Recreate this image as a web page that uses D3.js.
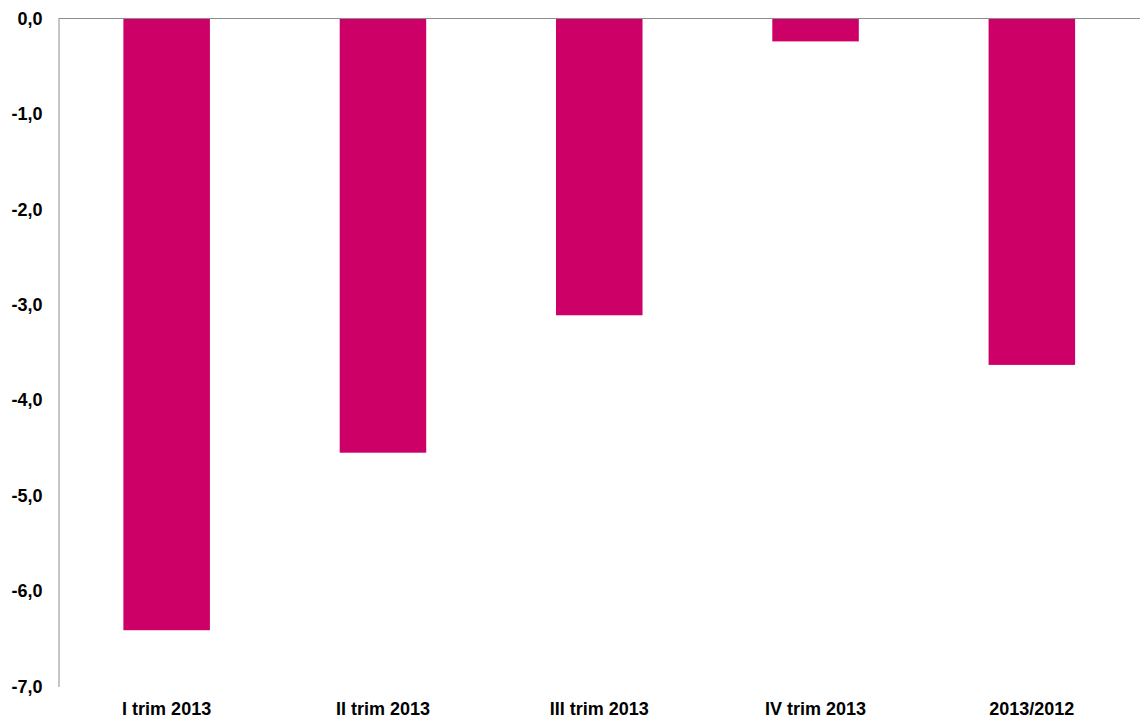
<!DOCTYPE html>
<html>
<head>
<meta charset="utf-8">
<script src="https://cdn.jsdelivr.net/npm/d3@7"></script>
<style>
  html, body { margin: 0; padding: 0; background: #fff; }
  svg { display: block; }
  text { font-family: "Liberation Sans", Arial, sans-serif; font-weight: bold; fill: #000; }
</style>
</head>
<body>
<svg id="chart" width="1140" height="720"></svg>
<script>
// Variazione percentuale per trimestre e media annua
const categories = ["I trim 2013", "II trim 2013", "III trim 2013", "IV trim 2013", "2013/2012"];
const values = [-6.41, -4.55, -3.11, -0.24, -3.63];
const yTicks = [0, -1, -2, -3, -4, -5, -6, -7];

const width = 1140, height = 720;
const margin = { top: 18.5, right: 0, bottom: 33.5, left: 58.5 };

const svg = d3.select("#chart");

const x = d3.scaleBand()
  .domain(categories)
  .range([margin.left, width - margin.right])
  .paddingInner(0.6)
  .paddingOuter(0.3);

const y = d3.scaleLinear()
  .domain([0, -7])
  .range([margin.top, height - margin.bottom]);

const fmt = v => d3.format(".1f")(v).replace(".", ",").replace("−", "-");

// Bars hanging from the zero line
svg.append("g")
  .selectAll("rect")
  .data(values)
  .join("rect")
  .attr("x", (d, i) => x(categories[i]))
  .attr("y", y(0))
  .attr("width", x.bandwidth())
  .attr("height", d => y(d) - y(0))
  .attr("fill", "#CC0066");

// Vertical axis
const yAxis = svg.append("g")
  .attr("transform", `translate(${margin.left},0)`)
  .call(d3.axisLeft(y).tickValues(yTicks).tickFormat(fmt).tickSize(0).tickPadding(16));
yAxis.select(".domain").attr("stroke", "#8c8c8c").attr("stroke-width", 1);
yAxis.selectAll("text").style("font-size", "18px");

// Zero line across the plot
svg.append("line")
  .attr("x1", margin.left).attr("x2", width)
  .attr("y1", y(0)).attr("y2", y(0))
  .attr("stroke", "#8c8c8c").attr("stroke-width", 1);

// Category labels along the bottom
svg.append("g")
  .selectAll("text")
  .data(categories)
  .join("text")
  .attr("x", d => x(d) + x.bandwidth() / 2)
  .attr("y", 715)
  .attr("text-anchor", "middle")
  .style("font-size", "18px")
  .text(d => d);
</script>
</body>
</html>
